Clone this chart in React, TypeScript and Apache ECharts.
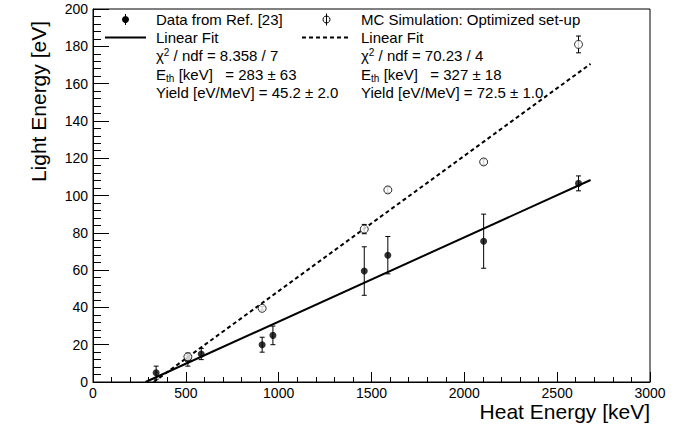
import React, { useEffect, useRef } from "react";
import * as echarts from "echarts";

// Data from Ref. [23] (filled markers)
const refHeat = [340, 511, 583, 911, 969, 1461, 1588, 2104, 2615];
const refLight = [5, 12, 15, 20, 25, 59.5, 68, 75.5, 106.5];
const refErr = [3.5, 3.5, 3, 4, 5, 13, 10, 14.5, 4];

// MC Simulation: Optimized set-up (open markers)
const mcHeat = [511, 911, 1461, 1588, 2104, 2615];
const mcLight = [13.5, 39.5, 82, 103, 118, 181];
const mcErr = [1, 1, 2.5, 1.5, 1.5, 4.5];

// Linear fits (endpoints)
const refFitX = [283, 2680];
const refFitY = [0, 108.3];
const mcFitX = [327, 2680];
const mcFitY = [0, 170.6];

// Legend texts
const legendLeft = ["Data from Ref. [23]", "Linear Fit", "8.358 / 7", "283 ± 63", "45.2 ± 2.0"];
const legendRight = ["MC Simulation: Optimized set-up", "Linear Fit", "70.23 / 4", "327 ± 18", "72.5 ± 1.0"];

const FONT = "'Liberation Sans', Arial, Helvetica, sans-serif";

function errorSeries(xs: number[], ys: number[], es: number[], name: string) {
  return {
    type: "custom",
    name,
    silent: true,
    z: 3,
    data: xs.map((x, i) => [x, ys[i] - es[i], ys[i] + es[i]]),
    encode: { x: 0, y: [1, 2] },
    renderItem: (_params: any, api: any) => {
      const x = api.value(0);
      const lo = api.coord([x, api.value(1)]);
      const hi = api.coord([x, api.value(2)]);
      const cap = 2.5;
      const st = { stroke: "#000", lineWidth: 1 };
      return {
        type: "group",
        children: [
          { type: "line", shape: { x1: lo[0], y1: lo[1], x2: hi[0], y2: hi[1] }, style: st },
          { type: "line", shape: { x1: lo[0] - cap, y1: lo[1], x2: lo[0] + cap, y2: lo[1] }, style: st },
          { type: "line", shape: { x1: hi[0] - cap, y1: hi[1], x2: hi[0] + cap, y2: hi[1] }, style: st },
        ],
      };
    },
  };
}

const rich = {
  a: { fontSize: 15, fontFamily: FONT, color: "#000" },
  sup: { fontSize: 10, fontFamily: FONT, color: "#000", verticalAlign: "top", padding: [0, 0, 6, 0] },
};

function txt(x: number, y: number, text: string, size = 15) {
  return {
    type: "text",
    x,
    y,
    silent: true,
    style: { text, fontSize: size, fontFamily: FONT, fill: "#000", textVerticalAlign: "middle", textAlign: "left" },
  };
}

function legendColumn(x: number, texts: string[]) {
  const rows = [19, 37, 55, 74, 92];
  return [
    txt(x, rows[0], texts[0]),
    txt(x, rows[1], texts[1]),
    {
      type: "text",
      x,
      y: rows[2],
      silent: true,
      style: {
        text: `{a|χ}{sup|2}{a| / ndf = ${texts[2]}}`,
        rich,
        textVerticalAlign: "middle",
        textAlign: "left",
        fill: "#000",
      },
    },
    txt(x, rows[3], "E"),
    txt(x + 10, rows[3] + 4.5, "th", 10),
    txt(x + 18.5, rows[3], ` [keV]   = ${texts[3]}`),
    txt(x, rows[4], `Yield [eV/MeV] = ${texts[4]}`),
  ];
}

export default function App() {
  const ref = useRef<HTMLDivElement>(null);
  useEffect(() => {
    document.body.style.margin = "0";
    const chart = echarts.init(ref.current!, null, { renderer: "svg" });
    const option: any = {
      animation: false,
      backgroundColor: "#fff",
      grid: {
        left: 93,
        right: 42,
        top: 9,
        bottom: 48,
        show: true,
        borderColor: "#000",
        borderWidth: 1,
        backgroundColor: "transparent",
      },
      xAxis: {
        type: "value",
        min: 0,
        max: 3000,
        interval: 500,
        name: "Heat Energy [keV]",
        nameLocation: "end",
        nameGap: 0,
        nameTextStyle: {
          fontSize: 21,
          fontFamily: FONT,
          color: "#000",
          align: "right",
          verticalAlign: "top",
          padding: [19, 0, 0, 0],
        },
        axisLine: { lineStyle: { color: "#000", width: 1 } },
        axisTick: { inside: true, length: 10, lineStyle: { color: "#000" } },
        minorTick: { show: true, splitNumber: 5, length: 5, lineStyle: { color: "#000" } },
        splitLine: { show: false },
        axisLabel: {
          color: "#000",
          fontSize: 14,
          fontFamily: FONT,
          margin: 4,
          formatter: (v: number) => String(v),
        },
      },
      yAxis: {
        type: "value",
        min: 0,
        max: 200,
        interval: 20,
        axisLine: { show: true, lineStyle: { color: "#000", width: 1 } },
        axisTick: { show: true, inside: true, length: 16, lineStyle: { color: "#000" } },
        minorTick: { show: true, splitNumber: 5, length: 8, lineStyle: { color: "#000" } },
        splitLine: { show: false },
        axisLabel: {
          color: "#000",
          fontSize: 14,
          fontFamily: FONT,
          margin: 5,
          formatter: (v: number) => String(v),
        },
      },
      graphic: [
        {
          type: "text",
          x: 38,
          y: 21,
          rotation: Math.PI / 2,
          silent: true,
          style: {
            text: "Light Energy [eV]",
            fontSize: 21,
            fontFamily: FONT,
            fill: "#000",
            textAlign: "right",
            textVerticalAlign: "middle",
          },
        },
        // legend markers, left column
        { type: "line", silent: true, shape: { x1: 125.5, y1: 14, x2: 125.5, y2: 25 }, style: { stroke: "#000", lineWidth: 1 } },
        { type: "circle", silent: true, shape: { cx: 125.5, cy: 19.5, r: 3.5 }, style: { fill: "#000" } },
        { type: "line", silent: true, shape: { x1: 105, y1: 37.5, x2: 146, y2: 37.5 }, style: { stroke: "#000", lineWidth: 2 } },
        // legend markers, right column
        { type: "line", silent: true, shape: { x1: 326.5, y1: 13.5, x2: 326.5, y2: 25.5 }, style: { stroke: "#000", lineWidth: 1 } },
        { type: "circle", silent: true, shape: { cx: 326.5, cy: 19.5, r: 3.5 }, style: { fill: "none", stroke: "#000", lineWidth: 1 } },
        { type: "line", silent: true, shape: { x1: 302, y1: 37.5, x2: 350, y2: 37.5 }, style: { stroke: "#000", lineWidth: 2, lineDash: [4, 3] } },
        ...legendColumn(156, legendLeft),
        ...legendColumn(361, legendRight),
      ],
      series: [
        {
          type: "line",
          name: "Linear Fit (Ref. [23])",
          data: refFitX.map((x, i) => [x, refFitY[i]]),
          showSymbol: false,
          symbol: "none",
          lineStyle: { color: "#000", width: 2 },
          z: 2,
          silent: true,
        },
        {
          type: "line",
          name: "Linear Fit (MC)",
          data: mcFitX.map((x, i) => [x, mcFitY[i]]),
          showSymbol: false,
          symbol: "none",
          lineStyle: { color: "#000", width: 2, type: [4, 3] },
          z: 2,
          silent: true,
        },
        errorSeries(refHeat, refLight, refErr, "Ref err"),
        errorSeries(mcHeat, mcLight, mcErr, "MC err"),
        {
          type: "scatter",
          name: "Data from Ref. [23]",
          data: refHeat.map((x, i) => [x, refLight[i]]),
          symbol: "circle",
          symbolSize: 7,
          itemStyle: { color: "#000" },
          z: 4,
          silent: true,
        },
        {
          type: "scatter",
          name: "MC Simulation: Optimized set-up",
          data: mcHeat.map((x, i) => [x, mcLight[i]]),
          symbol: "circle",
          symbolSize: 8,
          itemStyle: { color: "#fff", borderColor: "#000", borderWidth: 1 },
          z: 4,
          silent: true,
        },
      ],
    };
    chart.setOption(option);
    return () => chart.dispose();
  }, []);
  return <div ref={ref} style={{ width: 692, height: 430 }} />;
}
